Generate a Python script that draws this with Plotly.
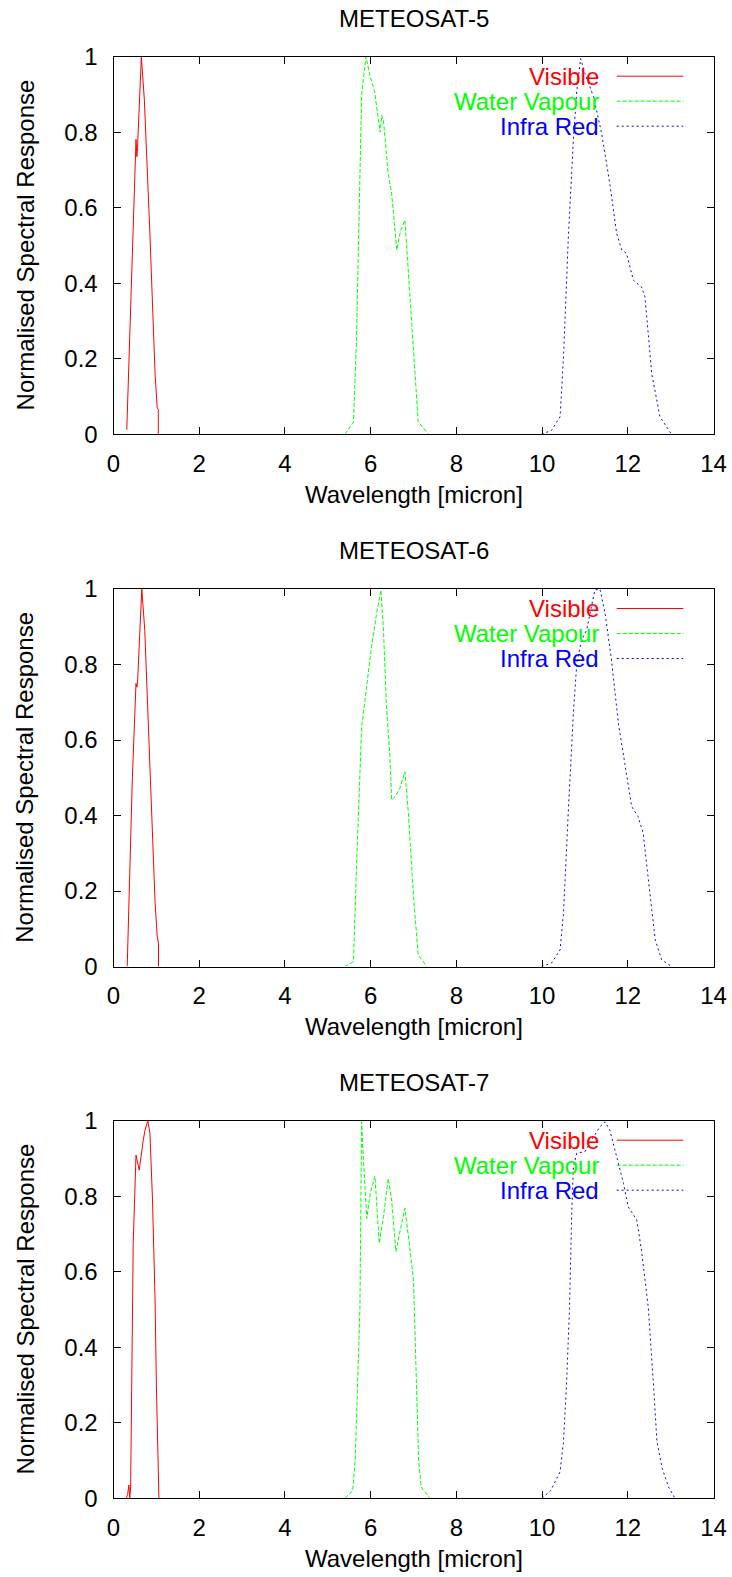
import plotly.graph_objects as go

# ---------------- data ----------------
titles = ["METEOSAT-5", "METEOSAT-6", "METEOSAT-7"]
series_names = ["Visible", "Water Vapour", "Infra Red"]
x_ticks = [0, 2, 4, 6, 8, 10, 12, 14]
y_ticks = [0, 0.2, 0.4, 0.6, 0.8, 1]

# METEOSAT-5
m5_vis_x = [0.31, 0.44, 0.525, 0.545, 0.56, 0.65, 0.72, 0.85, 0.97, 1.02, 1.045, 1.045]
m5_vis_y = [0.012, 0.514, 0.781, 0.735, 0.76, 1.0, 0.885, 0.53, 0.16, 0.07, 0.065, 0.0]
m5_wv_x = [5.40, 5.60, 5.67, 5.74, 5.79, 5.89, 5.99, 6.09, 6.22, 6.26, 6.30, 6.41, 6.49,
           6.61, 6.70, 6.80, 6.88, 7.00, 7.11, 7.35]
m5_wv_y = [0.0, 0.033, 0.25, 0.60, 0.90, 1.0, 0.947, 0.91, 0.80, 0.845, 0.83, 0.69, 0.638,
           0.488, 0.54, 0.567, 0.426, 0.205, 0.033, 0.0]
m5_ir_x = [9.99, 10.22, 10.42, 10.50, 10.61, 10.73, 10.81, 10.90, 11.00, 11.20, 11.39, 11.58,
           11.74, 11.86, 11.97, 12.13, 12.32, 12.40, 12.56, 12.75, 13.02]
m5_ir_y = [0.0, 0.01, 0.046, 0.205, 0.514, 0.78, 0.91, 0.995, 0.956, 0.894, 0.797, 0.664,
           0.532, 0.488, 0.479, 0.408, 0.39, 0.364, 0.16, 0.046, 0.0]

# METEOSAT-6
m6_vis_x = [0.32, 0.44, 0.525, 0.545, 0.56, 0.66, 0.73, 0.85, 0.97, 1.02, 1.05, 1.05]
m6_vis_y = [0.0, 0.50, 0.75, 0.74, 0.75, 1.0, 0.89, 0.55, 0.17, 0.08, 0.06, 0.0]
m6_wv_x = [5.40, 5.60, 5.66, 5.74, 5.79, 5.83, 5.91, 6.02, 6.14, 6.24, 6.30, 6.37, 6.45,
           6.49, 6.57, 6.68, 6.80, 6.88, 7.00, 7.11, 7.31]
m6_wv_y = [0.0, 0.013, 0.23, 0.494, 0.635, 0.67, 0.74, 0.847, 0.936, 0.997, 0.891, 0.688,
           0.556, 0.441, 0.45, 0.472, 0.516, 0.406, 0.185, 0.031, 0.0]
m6_ir_x = [9.99, 10.22, 10.42, 10.50, 10.61, 10.73, 10.81, 10.92, 11.04, 11.12, 11.23, 11.35,
           11.47, 11.62, 11.78, 11.93, 12.09, 12.24, 12.36, 12.48, 12.64, 12.79, 13.02]
m6_ir_y = [0.0, 0.009, 0.044, 0.141, 0.406, 0.671, 0.803, 0.865, 0.891, 0.936, 0.997, 1.0,
           0.936, 0.812, 0.644, 0.538, 0.424, 0.397, 0.353, 0.23, 0.071, 0.018, 0.0]

# METEOSAT-7
m7_vis_x = [0.30, 0.33, 0.36, 0.38, 0.40, 0.44, 0.46, 0.525, 0.60, 0.695, 0.735, 0.80, 0.85,
            0.91, 0.97, 1.00, 1.04, 1.06]
m7_vis_y = [0.0, 0.01, 0.035, 0.0, 0.03, 0.525, 0.675, 0.909, 0.869, 0.949, 0.975, 1.0, 0.967,
            0.79, 0.525, 0.30, 0.10, 0.0]
m7_wv_x = [5.40, 5.58, 5.64, 5.70, 5.75, 5.79, 5.81, 5.91, 5.99, 6.10, 6.20, 6.30, 6.41, 6.49,
           6.59, 6.69, 6.80, 6.92, 7.00, 7.02, 7.07, 7.12, 7.18, 7.38]
m7_wv_y = [0.0, 0.02, 0.10, 0.30, 0.503, 0.997, 0.94, 0.741, 0.808, 0.853, 0.675, 0.746, 0.847,
           0.79, 0.653, 0.71, 0.768, 0.657, 0.578, 0.498, 0.30, 0.10, 0.03, 0.0]
m7_ir_x = [10.0, 10.2, 10.42, 10.50, 10.57, 10.64, 10.69, 10.73, 10.81, 11.00, 11.16, 11.35,
           11.47, 11.58, 11.74, 11.90, 12.01, 12.21, 12.32, 12.48, 12.60, 12.68, 12.80, 12.95, 13.1]
m7_ir_y = [0.0, 0.02, 0.07, 0.15, 0.30, 0.503, 0.746, 0.878, 0.914, 0.918, 0.949, 0.984, 0.997,
           0.975, 0.905, 0.834, 0.772, 0.737, 0.657, 0.503, 0.30, 0.15, 0.08, 0.03, 0.0]

panels = [
    [(m5_vis_x, m5_vis_y), (m5_wv_x, m5_wv_y), (m5_ir_x, m5_ir_y)],
    [(m6_vis_x, m6_vis_y), (m6_wv_x, m6_wv_y), (m6_ir_x, m6_ir_y)],
    [(m7_vis_x, m7_vis_y), (m7_wv_x, m7_wv_y), (m7_ir_x, m7_ir_y)],
]

# ---------------- styling / layout ----------------
W, H = 732, 1577
FONT = "Liberation Sans, Arial, sans-serif"
FS = 24
colors = ["#ff0000", "#00ff00", "#0000ff"]
dashes = ["solid", "4px,2px", "2px,3px"]

plot_left, plot_right = 113.5, 713.5
plot_tops = [56.7, 589.0, 1120.7]
plot_h = 377.5

fig = go.Figure()
annotations = []
shapes = []

for i, panel in enumerate(panels):
    xa = "x" if i == 0 else f"x{i+1}"
    ya = "y" if i == 0 else f"y{i+1}"
    for j, (xs, ys) in enumerate(panel):
        fig.add_trace(go.Scatter(
            x=xs, y=ys, mode="lines", xaxis=xa, yaxis=ya, showlegend=False,
            line=dict(color=colors[j], width=1, dash=dashes[j]),
            name=series_names[j], hoverinfo="skip"))

    top = plot_tops[i]
    bot = top + plot_h
    dom = [1 - bot / H, 1 - top / H]
    axis_common = dict(showline=True, linecolor="black", linewidth=1, mirror="ticks",
                       ticks="inside", ticklen=7, tickwidth=1, tickcolor="black",
                       showgrid=False, zeroline=False, automargin=False,
                       tickfont=dict(family=FONT, size=FS, color="black"))
    fig.layout[("xaxis" if i == 0 else f"xaxis{i+1}")] = dict(
        domain=[plot_left / W, plot_right / W], range=[0, 14],
        tickvals=x_ticks, ticktext=[str(v) for v in x_ticks],
        anchor=ya, ticklabelstandoff=8, **axis_common)
    fig.layout[("yaxis" if i == 0 else f"yaxis{i+1}")] = dict(
        domain=dom, range=[0, 1],
        tickvals=y_ticks, ticktext=["0", "0.2", "0.4", "0.6", "0.8", "1"],
        anchor=xa, ticklabelstandoff=10, **axis_common)

    cx = (plot_left + plot_right) / 2 / W
    # subplot title
    annotations.append(dict(text=titles[i], x=cx, y=1 - (top - 38.5) / H, xref="paper", yref="paper",
                            xanchor="center", yanchor="middle", showarrow=False,
                            font=dict(family=FONT, size=FS, color="black")))
    # x axis title
    annotations.append(dict(text="Wavelength [micron]", x=cx, y=1 - (bot + 60) / H,
                            xref="paper", yref="paper", xanchor="center", yanchor="middle",
                            showarrow=False, font=dict(family=FONT, size=FS, color="black")))
    # y axis title
    annotations.append(dict(text="Normalised Spectral Response", x=25 / W, y=1 - (top + plot_h / 2) / H,
                            xref="paper", yref="paper", xanchor="center", yanchor="middle",
                            textangle=-90, showarrow=False,
                            font=dict(family=FONT, size=FS, color="black")))
    # gnuplot style key
    for j, nm in enumerate(series_names):
        ry = top + 19.5 + 25 * j
        annotations.append(dict(text=nm, x=601 / W, y=1 - ry / H, xref="paper", yref="paper",
                                xanchor="right", yanchor="middle", showarrow=False,
                                font=dict(family=FONT, size=FS, color=colors[j])))
        shapes.append(dict(type="line", xref="paper", yref="paper",
                           x0=616.7 / W, x1=683.3 / W, y0=1 - ry / H, y1=1 - ry / H,
                           line=dict(color=colors[j], width=1, dash=dashes[j])))

fig.update_layout(width=W, height=H, margin=dict(l=0, r=0, t=0, b=0),
                  paper_bgcolor="white", plot_bgcolor="white",
                  annotations=annotations, shapes=shapes, hovermode=False,
                  font=dict(family=FONT, size=FS, color="black"))

fig.write_html("out.html",
               config={"displayModeBar": False, "staticPlot": True},
               post_script="document.body.style.margin='0';"
                           "document.body.style.overflow='hidden';"
                           "document.documentElement.style.overflow='hidden';")
